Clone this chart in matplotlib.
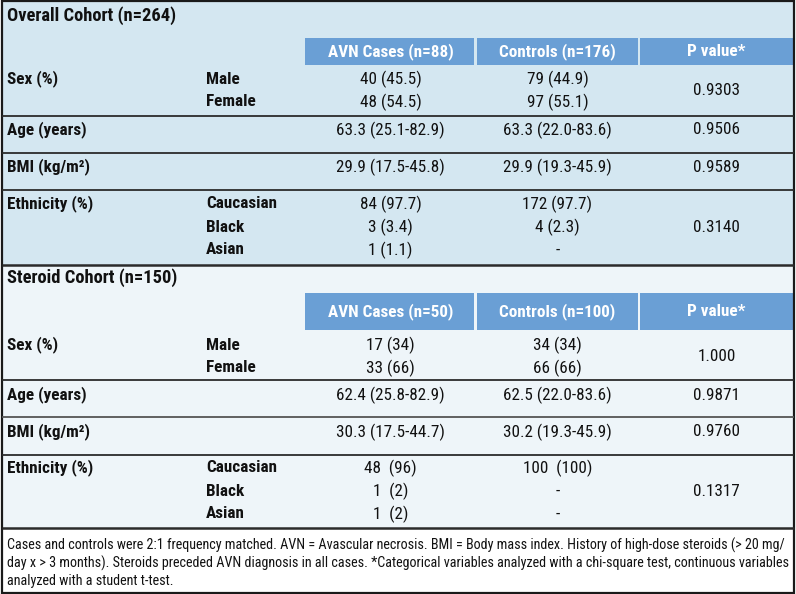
import matplotlib
matplotlib.use('Agg')
import matplotlib.pyplot as plt
from matplotlib import font_manager
from matplotlib.patches import Rectangle

# ---- data ----
overall_title = 'Overall Cohort (n=264)'
overall_headers = ['AVN Cases (n=88)', 'Controls (n=176)', 'P value*']
steroid_title = 'Steroid Cohort (n=150)'
steroid_headers = ['AVN Cases (n=50)', 'Controls (n=100)', 'P value*']

row_labels = ['Sex (%)', 'Age (years)', 'BMI (kg/m²)', 'Ethnicity (%)']
sub_labels = [['Male', 'Female'], [''], [''], ['Caucasian', 'Black', 'Asian']]

overall_avn = [['40 (45.5)', '48 (54.5)'], ['63.3 (25.1-82.9)'], ['29.9 (17.5-45.8)'],
               ['84 (97.7)', '3 (3.4)', '1 (1.1)']]
overall_ctrl = [['79 (44.9)', '97 (55.1)'], ['63.3 (22.0-83.6)'], ['29.9 (19.3-45.9)'],
                ['172 (97.7)', '4 (2.3)', '-']]
overall_p = ['0.9303', '0.9506', '0.9589', '0.3140']

steroid_avn = [['17 (34)', '33 (66)'], ['62.4 (25.8-82.9)'], ['30.3 (17.5-44.7)'],
               ['48  (96)', '1  (2)', '1  (2)']]
steroid_ctrl = [['34 (34)', '66 (66)'], ['62.5 (22.0-83.6)'], ['30.2 (19.3-45.9)'],
                ['100  (100)', '-', '-']]
steroid_p = ['1.000', '0.9871', '0.9760', '0.1317']

footnote = ['Cases and controls were 2:1 frequency matched. AVN = Avascular necrosis. BMI = Body mass index. History of high-dose steroids (> 20 mg/',
            'day x > 3 months). Steroids preceded AVN diagnosis in all cases. *Categorical variables analyzed with a chi-square test, continuous variables',
            'analyzed with a student t-test.']

# ---- font ----
names = {f.name for f in font_manager.fontManager.ttflist}
fam = 'DejaVu Sans'
for c in ['Roboto Condensed', 'Liberation Sans Narrow', 'DejaVu Sans Condensed', 'Liberation Sans']:
    if c in names:
        fam = c
        break
plt.rcParams['font.family'] = [fam, 'DejaVu Sans']

W, H = 796, 594
fig = plt.figure(figsize=(W / 100, H / 100), dpi=100)
ax = fig.add_axes([0, 0, 1, 1])
ax.set_xlim(0, W)
ax.set_ylim(H, 0)
ax.axis('off')

light = '#d4e7f1'
pale = '#eef5f9'
head = '#6a9fd5'
linec = '#2b2b2b'

x_lab, x_sub = 7, 206
col_edges = [305, 476, 639, 794]
col_cent = [(col_edges[i] + col_edges[i + 1]) / 2 for i in range(3)]
body_fs = 12.3
title_fs = 13.3
foot_fs = 10.2


def section(top, bottom, bg, title, title_y, head_top, head_bot, headers,
            text_ys, lines, avn, ctrl, pv):
    ax.add_patch(Rectangle((2, top), 792, bottom - top, facecolor=bg, edgecolor='none'))
    ax.text(x_lab, title_y, title, fontsize=title_fs, fontweight='bold', va='center', color='#111')
    for i, h in enumerate(headers):
        ax.add_patch(Rectangle((col_edges[i] + (1 if i else 0), head_top),
                               col_edges[i + 1] - col_edges[i] - 2, head_bot - head_top,
                               facecolor=head, edgecolor='none'))
        ax.text(col_cent[i], (head_top + head_bot) / 2, h, fontsize=body_fs, fontweight='bold',
                color='white', ha='center', va='center')
    for g, ys in enumerate(text_ys):
        ax.text(x_lab, ys[0], row_labels[g], fontsize=body_fs, fontweight='bold', va='center', color='#111')
        for k, y in enumerate(ys):
            if sub_labels[g][k]:
                ax.text(x_sub, y, sub_labels[g][k], fontsize=body_fs, fontweight='bold', va='center', color='#111')
            ax.text(col_cent[0], y, avn[g][k], fontsize=body_fs, ha='center', va='center', color='#111')
            ax.text(col_cent[1], y, ctrl[g][k], fontsize=body_fs, ha='center', va='center', color='#111')
        ax.text(col_cent[2], sum(ys) / len(ys) if len(ys) == 2 else ys[len(ys) // 2], pv[g],
                fontsize=body_fs, ha='center', va='center', color='#111')
    for y, lw, c in lines:
        ax.plot([2, 794], [y, y], color=c, lw=lw, solid_capstyle='butt')


section(0, 265, light, overall_title, 16, 38, 65, overall_headers,
        [[79, 102], [130], [167], [204, 227, 250]],
        [(116, 1.3, linec), (153, 1.3, linec), (190, 1.3, linec)],
        overall_avn, overall_ctrl, overall_p)

section(265, 528, pale, steroid_title, 278, 293, 330, steroid_headers,
        [[345, 368], [395], [432], [468, 491, 514]],
        [(380, 1.3, linec), (417, 1.3, '#555555'), (455, 1.3, linec)],
        steroid_avn, steroid_ctrl, steroid_p)

for y, line in zip([545, 563, 581], footnote):
    ax.text(x_lab, y, line, fontsize=foot_fs, va='center', color='#111')

# section borders and outer frame
ax.plot([2, 794], [265, 265], color=linec, lw=1.8, solid_capstyle='butt')
ax.plot([2, 794], [528, 528], color=linec, lw=1.8, solid_capstyle='butt')
ax.add_patch(Rectangle((1.5, 1), 792.5, 592, facecolor='none', edgecolor='#1a1a1a', lw=1.6))

fig.savefig('out.png', dpi=100)
